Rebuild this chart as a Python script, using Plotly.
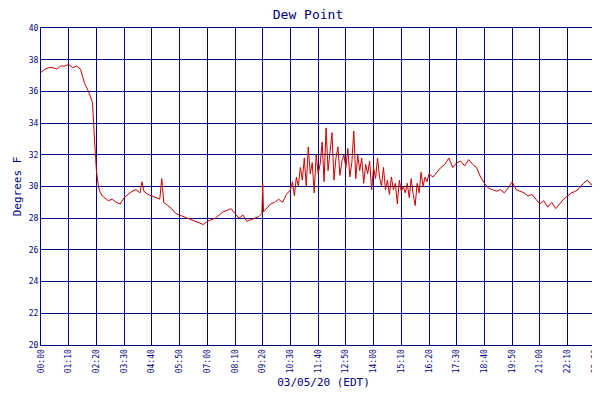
import plotly.graph_objects as go

# minutes since midnight and dew point (F)
minutes = [0, 10, 20, 30, 40, 50, 60, 70, 80, 90, 100, 105, 110, 120, 125, 130, 135, 140, 145, 150,
           155, 160, 170, 180, 190, 200, 210, 220, 230, 240, 250, 255, 260, 270, 280, 290, 300, 305, 308,
           310, 320, 330, 340, 350, 360, 370, 380, 390, 400, 410, 420, 430, 440, 450, 460, 470,
           480, 490, 500, 510, 520, 530, 540, 550, 558, 560, 562, 570, 580, 590, 600, 610, 620,
           630, 635, 640, 645, 650, 655, 660, 665, 670, 675, 680, 685, 690, 695, 700, 705, 710,
           715, 720, 725, 730, 735, 740, 745, 750, 755, 760, 765, 770, 775, 780, 785, 790, 795,
           800, 805, 810, 815, 820, 825, 830, 835, 840, 845, 850, 855, 860, 865, 870, 875, 880,
           885, 890, 895, 900, 905, 910, 915, 920, 925, 930, 935, 940, 945, 950, 955, 960, 965,
           970, 975, 980, 990, 1000, 1010, 1020, 1030, 1040, 1050, 1060, 1070, 1080, 1090, 1100,
           1110, 1120, 1130, 1140, 1150, 1160, 1170, 1180, 1190, 1200, 1210, 1220, 1230, 1240,
           1250, 1260, 1270, 1280, 1290, 1300, 1310, 1320, 1330, 1340, 1350, 1360, 1370, 1380,
           1390, 1400, 1410, 1420, 1427]
dewpoint = [37.2, 37.4, 37.5, 37.5, 37.4, 37.6, 37.6, 37.7, 37.5, 37.6, 37.4, 37.0, 36.5, 36.0, 35.6,
            35.3, 33.0, 31.0, 30.0, 29.6, 29.4, 29.3, 29.1, 29.2, 29.0, 28.9, 29.3, 29.5, 29.7,
            29.8, 29.6, 30.3, 29.7, 29.5, 29.4, 29.3, 29.2, 30.5, 29.2, 29.0, 28.8, 28.6, 28.3,
            28.2, 28.1, 28.0, 27.9, 27.8, 27.7, 27.6, 27.8, 27.9, 28.0, 28.2, 28.4, 28.5, 28.6,
            28.3, 28.0, 28.2, 27.8, 27.9, 28.0, 28.1, 28.3, 30.2, 28.4, 28.6, 28.9, 29.0, 29.2,
            29.0, 29.5, 29.8, 30.3, 29.4, 30.6, 30.0, 31.2, 30.4, 31.8, 30.0, 32.5, 30.8, 31.5,
            29.6, 32.0, 30.8, 31.4, 32.8, 30.3, 33.7, 31.0, 32.2, 33.4, 30.4, 31.8, 32.5, 30.7,
            31.6, 32.0, 31.2, 32.4, 30.6, 31.5, 33.5, 30.5, 32.0, 31.0, 31.8, 30.2, 31.4, 30.8,
            31.6, 29.8, 31.2, 30.5, 31.8, 30.6, 30.0, 31.2, 29.8, 30.4, 29.5, 30.6, 29.8, 30.2,
            28.9, 30.4, 29.7, 30.0, 29.6, 30.2, 29.3, 30.5, 29.5, 28.8, 30.2, 29.6, 30.9, 30.0,
            30.6, 30.3, 30.8, 30.6, 30.9, 31.2, 31.4, 31.8, 31.2, 31.5, 31.6, 31.3, 31.7, 31.4,
            31.2, 30.6, 30.2, 29.9, 29.8, 29.7, 29.8, 29.6, 29.9, 30.3, 29.8, 29.7, 29.6, 29.4,
            29.5, 29.2, 28.9, 29.1, 28.7, 29.0, 28.6, 28.9, 29.2, 29.4, 29.6, 29.7, 29.9, 30.2,
            30.4, 30.1, 30.5, 30.6]

tick_vals = list(range(0, 1401, 70)) + [1427]
tick_text = ["%02d:%02d" % (m // 60, m % 60) for m in tick_vals]

navy = "#000080"
fig = go.Figure()
fig.add_trace(go.Scatter(x=minutes, y=dewpoint, mode="lines", name="Dew Point",
                         line=dict(color="#cc0000", width=1)))

fig.update_layout(
    width=600, height=400, paper_bgcolor="white", plot_bgcolor="white",
    margin=dict(l=33, r=2, t=20, b=63, autoexpand=False),
    font=dict(family="DejaVu Sans Mono", size=8, color=navy),
    title=dict(text="Dew Point", x=0.5, y=0.995, yanchor="top",
               font=dict(size=13, color=navy)),
    showlegend=True,
    legend=dict(orientation="h", x=0.55, xanchor="center", y=-0.17, yanchor="top",
                font=dict(size=8, color=navy)),
    xaxis=dict(range=[0, 1427], tickvals=tick_vals, ticktext=tick_text, tickangle=-90,
               showgrid=True, gridcolor=navy, gridwidth=1, zeroline=False, automargin=False,
               showline=True, linecolor=navy, mirror=True, ticks="",
               title=dict(text="03/05/20 (EDT)", standoff=6, font=dict(size=11, color=navy))),
    yaxis=dict(range=[20, 40], dtick=2, showgrid=True, gridcolor=navy, gridwidth=1,
               zeroline=False, showline=True, linecolor=navy, mirror=True, ticks="",
               automargin=False,
               title=dict(text="Degrees F", standoff=4, font=dict(size=11, color=navy))),
)

fig.write_html("out.html")
